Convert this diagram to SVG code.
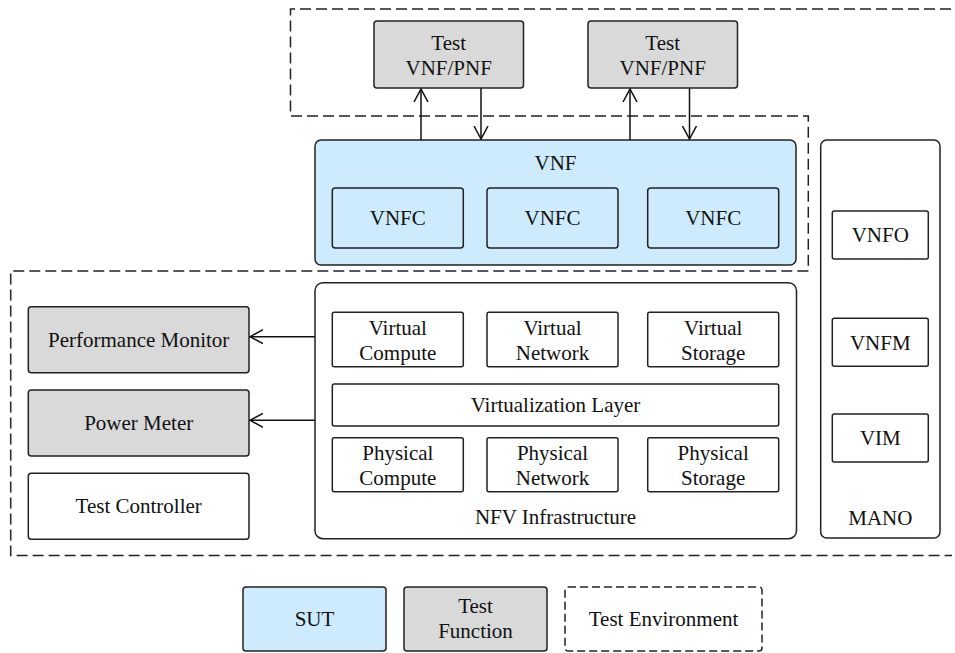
<svg xmlns="http://www.w3.org/2000/svg" width="955" height="653" viewBox="0 0 955 653">
<defs>
<style>
.t{font-family:"Liberation Serif","Times New Roman","DejaVu Serif",serif;font-size:21px;fill:#111;text-anchor:middle}
.box{stroke:#222;stroke-width:1.5}
.w{fill:#fff}
.g{fill:#d9d9d9}
.b{fill:#cdebfd}
.dash{fill:none;stroke:#222;stroke-width:1.5;stroke-dasharray:11 5}
.ln{fill:none;stroke:#111;stroke-width:1.5}
</style>
<marker id="ah" viewBox="0 0 14 16" refX="13" refY="8" markerWidth="14" markerHeight="16" markerUnits="userSpaceOnUse" orient="auto">
<path d="M0,1 L13,8 L0,15" fill="none" stroke="#111" stroke-width="1.5"/>
</marker>
</defs>
<rect width="955" height="653" fill="#fff"/>

<g id="test-environment">
<path class="dash" d="M951,9 H290.5 V116 H808.3 V271"/>
<path class="dash" d="M808.3,271 H10.7 V555.5 H952"/>
</g>

<g id="test-vnf-1">
<rect class="box g" x="374" y="21" width="149.5" height="67" rx="3"/>
<text class="t" x="448.7" y="50">Test</text>
<text class="t" x="448.7" y="75">VNF/PNF</text>
</g>
<g id="test-vnf-2">
<rect class="box g" x="588" y="21" width="149.5" height="67" rx="3"/>
<text class="t" x="662.7" y="50">Test</text>
<text class="t" x="662.7" y="75">VNF/PNF</text>
</g>

<g id="vnf">
<rect class="box b" x="315" y="140" width="481" height="125" rx="6"/>
<text class="t" x="555.5" y="170">VNF</text>
</g>
<g id="vnfc-1">
<rect class="box b" x="332.3" y="188" width="131" height="60" rx="3"/>
<text class="t" x="397.8" y="225">VNFC</text>
</g>
<g id="vnfc-2">
<rect class="box b" x="487" y="188" width="131" height="60" rx="3"/>
<text class="t" x="552.5" y="225">VNFC</text>
</g>
<g id="vnfc-3">
<rect class="box b" x="647.7" y="188" width="131" height="60" rx="3"/>
<text class="t" x="713.2" y="225">VNFC</text>
</g>

<g id="performance-monitor">
<rect class="box g" x="28.3" y="306.7" width="220.7" height="66" rx="3"/>
<text class="t" x="138.7" y="346.5">Performance Monitor</text>
</g>
<g id="power-meter">
<rect class="box g" x="28.3" y="390" width="220.7" height="66" rx="3"/>
<text class="t" x="138.7" y="430">Power Meter</text>
</g>
<g id="test-controller">
<rect class="box w" x="28.3" y="473.3" width="220.7" height="66" rx="3"/>
<text class="t" x="138.7" y="513">Test Controller</text>
</g>

<g id="nfvi">
<rect class="box w" x="315" y="282.7" width="481.5" height="256" rx="8"/>
<text class="t" x="555.5" y="524">NFV Infrastructure</text>
</g>
<g id="virtual-compute">
<rect class="box w" x="332.3" y="312.3" width="131" height="54.4" rx="2"/>
<text class="t" x="397.8" y="335">Virtual</text>
<text class="t" x="397.8" y="360">Compute</text>
</g>
<g id="virtual-network">
<rect class="box w" x="487" y="312.3" width="131" height="54.4" rx="2"/>
<text class="t" x="552.5" y="335">Virtual</text>
<text class="t" x="552.5" y="360">Network</text>
</g>
<g id="virtual-storage">
<rect class="box w" x="647.7" y="312.3" width="131" height="54.4" rx="2"/>
<text class="t" x="713.2" y="335">Virtual</text>
<text class="t" x="713.2" y="360">Storage</text>
</g>
<g id="virtualization-layer">
<rect class="box w" x="332.3" y="384" width="446.4" height="42" rx="2"/>
<text class="t" x="555.5" y="412">Virtualization Layer</text>
</g>
<g id="physical-compute">
<rect class="box w" x="332.3" y="437.7" width="131" height="54" rx="2"/>
<text class="t" x="397.8" y="460">Physical</text>
<text class="t" x="397.8" y="485">Compute</text>
</g>
<g id="physical-network">
<rect class="box w" x="487" y="437.7" width="131" height="54" rx="2"/>
<text class="t" x="552.5" y="460">Physical</text>
<text class="t" x="552.5" y="485">Network</text>
</g>
<g id="physical-storage">
<rect class="box w" x="647.7" y="437.7" width="131" height="54" rx="2"/>
<text class="t" x="713.2" y="460">Physical</text>
<text class="t" x="713.2" y="485">Storage</text>
</g>

<g id="mano">
<rect class="box w" x="820.7" y="140" width="119.3" height="398" rx="6"/>
<text class="t" x="880.3" y="525">MANO</text>
</g>
<g id="vnfo">
<rect class="box w" x="832.3" y="211" width="96" height="48" rx="2"/>
<text class="t" x="880.3" y="242">VNFO</text>
</g>
<g id="vnfm">
<rect class="box w" x="832.3" y="318.3" width="96" height="48" rx="2"/>
<text class="t" x="880.3" y="349.5">VNFM</text>
</g>
<g id="vim">
<rect class="box w" x="832.3" y="414" width="96" height="48" rx="2"/>
<text class="t" x="880.3" y="445">VIM</text>
</g>

<g id="connectors">
<line class="ln" x1="421" y1="140" x2="421" y2="89" marker-end="url(#ah)"/>
<line class="ln" x1="481" y1="88" x2="481" y2="139" marker-end="url(#ah)"/>
<line class="ln" x1="630" y1="140" x2="630" y2="89" marker-end="url(#ah)"/>
<line class="ln" x1="689.5" y1="88" x2="689.5" y2="139" marker-end="url(#ah)"/>
<line class="ln" x1="315" y1="336.7" x2="250" y2="336.7" marker-end="url(#ah)"/>
<line class="ln" x1="315" y1="420.3" x2="250" y2="420.3" marker-end="url(#ah)"/>
</g>

<g id="legend-sut">
<rect class="box b" x="243" y="587" width="143" height="64" rx="3"/>
<text class="t" x="314.5" y="626">SUT</text>
</g>
<g id="legend-test-function">
<rect class="box g" x="404" y="587" width="143" height="64" rx="3"/>
<text class="t" x="475.5" y="613">Test</text>
<text class="t" x="475.5" y="638">Function</text>
</g>
<g id="legend-test-environment">
<rect x="565" y="587" width="197" height="64" rx="3" fill="#fff" stroke="#222" stroke-width="1.5" stroke-dasharray="8 4"/>
<text class="t" x="663.5" y="626">Test Environment</text>
</g>
</svg>
